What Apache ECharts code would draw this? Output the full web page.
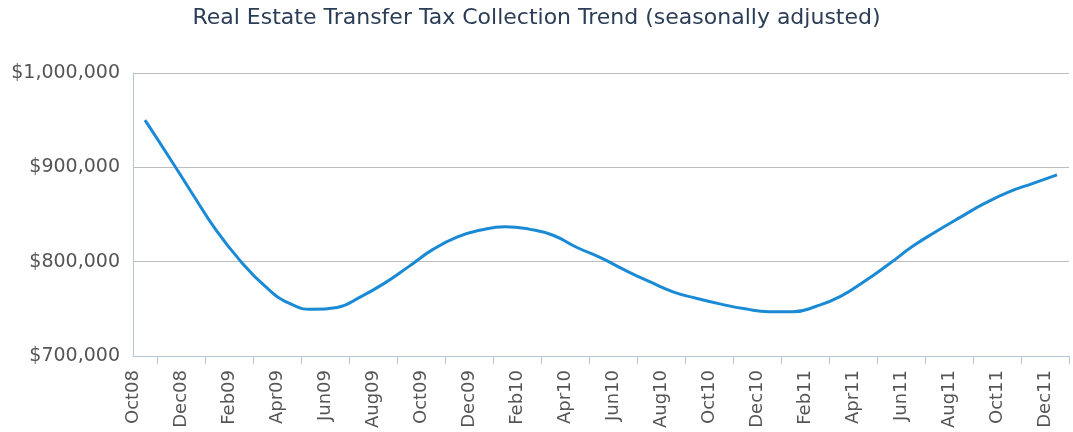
<!DOCTYPE html>
<html>
<head>
<meta charset="utf-8">
<script src="https://cdn.jsdelivr.net/npm/echarts@6/dist/echarts.min.js"></script>
<style>
    html, body { margin: 0; padding: 0; background: #fff; }
    #main { width: 1073px; height: 432px; }
</style>
</head>
<body>
<div id="main"></div>
<script>
    // monthly categories, Oct08 .. Dec11
    var months = ['Oct08','Nov08','Dec08','Jan09','Feb09','Mar09','Apr09','May09','Jun09','Jul09','Aug09','Sep09',
        'Oct09','Nov09','Dec09','Jan10','Feb10','Mar10','Apr10','May10','Jun10','Jul10','Aug10','Sep10',
        'Oct10','Nov10','Dec10','Jan11','Feb11','Mar11','Apr11','May11','Jun11','Jul11','Aug11','Sep11',
        'Oct11','Nov11','Dec11'];
    // seasonally adjusted collections ($)
    var collections = [950000, 911000, 871000, 832000, 800000, 774000, 756000, 749500, 751500, 763000,
        777500, 795000, 813000, 826000, 833500, 837000, 834500, 828000, 815000, 804000,
        791000, 779000, 768000, 761000, 755000, 750000, 747000, 747000, 753000, 763500,
        779500, 797500, 816500, 832500, 847500, 862000, 874000, 883000, 892000];
    var yTicks = [700000, 800000, 900000, 1000000];

    var myChart = echarts.init(document.getElementById('main'));
    var font = '"DejaVu Sans", Verdana, sans-serif';
    var option = {
        animation: false,
        title: {
            text: 'Real Estate Transfer Tax Collection Trend (seasonally adjusted)',
            left: 'center',
            top: 7,
            padding: 0,
            textStyle: { fontFamily: font, fontSize: 22, fontWeight: 'normal', color: '#2b3d57' }
        },
        grid: { left: 133, right: 4, top: 73, bottom: 76 },
        xAxis: [
            {
                type: 'category',
                data: months,
                boundaryGap: true,
                axisLine: { lineStyle: { color: '#b4c6dc', width: 1 } },
                axisTick: {
                    show: true,
                    length: 8,
                    lineStyle: { color: '#b4c6dc', width: 1 },
                    interval: function (index) { return index % 2 === 1; }
                },
                axisLabel: { show: false },
                splitLine: { show: false }
            },
            {
                // tick labels sit on band edges, every other month
                type: 'category',
                data: months.concat(['']),
                boundaryGap: false,
                position: 'bottom',
                axisLine: { show: false },
                axisTick: { show: false },
                splitLine: { show: false },
                axisLabel: {
                    rotate: 90,
                    margin: 14,
                    interval: function (index) { return index % 2 === 0; },
                    fontFamily: font,
                    fontSize: 18,
                    color: '#555'
                }
            }
        ],
        yAxis: {
            type: 'value',
            min: yTicks[0],
            max: yTicks[yTicks.length - 1],
            interval: 100000,
            axisLine: { show: true, lineStyle: { color: '#b4c6dc' } },
            axisTick: { show: false },
            splitLine: { lineStyle: { color: '#bdbdbd', width: 1 } },
            axisLabel: {
                margin: 13,
                fontFamily: font,
                fontSize: 19,
                color: '#555',
                formatter: function (v) { return '$' + v.toLocaleString('en-US'); }
            }
        },
        series: [
            {
                name: 'Collections',
                type: 'line',
                xAxisIndex: 0,
                data: collections,
                smooth: true,
                showSymbol: false,
                lineStyle: { color: '#1a8ad4', width: 3 }
            }
        ]
    };
    myChart.setOption(option);
</script>
</body>
</html>
